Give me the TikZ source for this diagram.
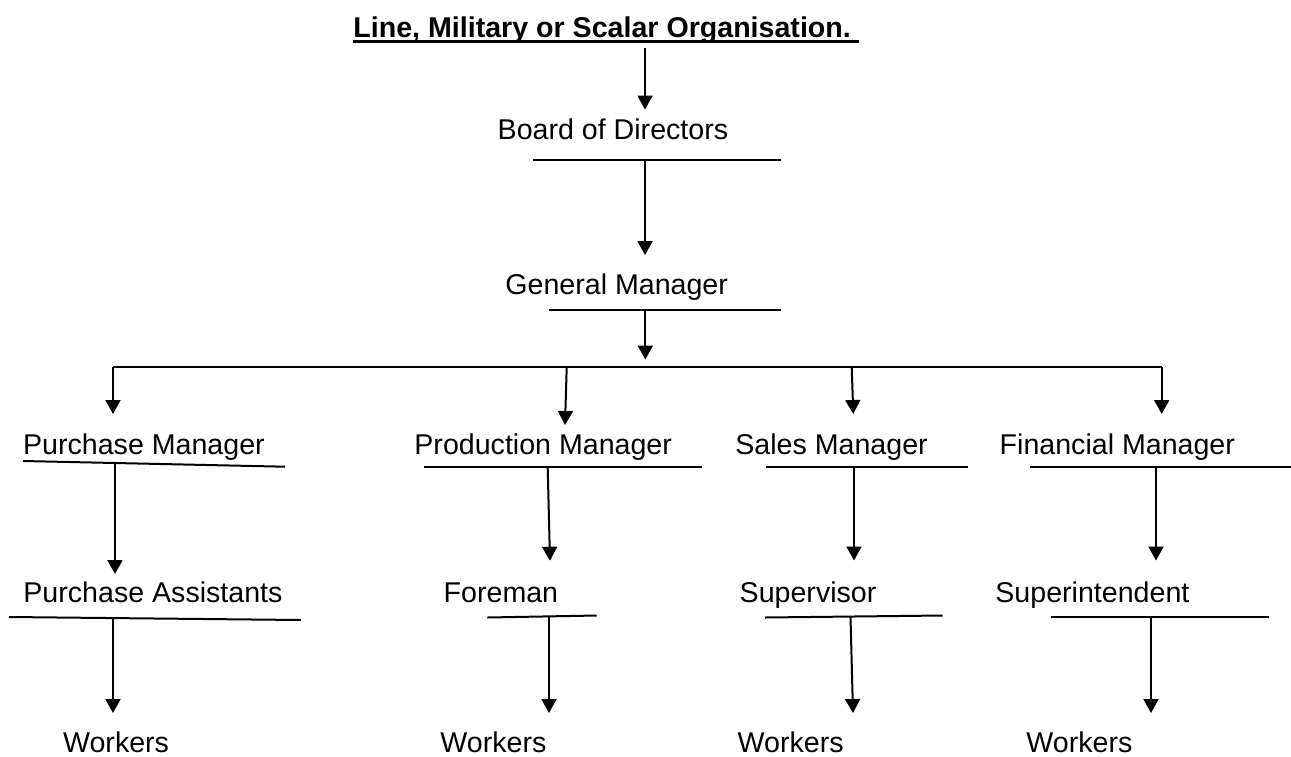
\documentclass[tikz,border=0pt]{standalone}
\usepackage{fontspec}
\setmainfont{Liberation Sans}
\usetikzlibrary{arrows.meta}
\tikzset{
  lbl/.style={anchor=base west, inner sep=0pt, font=\fontsize{14.3}{17}\selectfont},
  ttl/.style={anchor=base west, inner sep=0pt, font=\fontsize{14.3}{17}\selectfont\bfseries},
  uline/.style={line width=1pt},
  tline/.style={line width=1.5pt},
  arr/.style={line width=1pt, -{Triangle[length=7pt,width=7.5pt]}},
}
\begin{document}
\begin{tikzpicture}[x=0.5pt, y=-0.5pt]
\useasboundingbox (0,0) rectangle (1291,756);

% ---- texts ----
\node[ttl] (title) at (353,37.3) {Line, Military or Scalar Organisation.};
\node[lbl] (bod) at (497.3,139.3) {Board of Directors};
\node[lbl] (gm)  at (505,294)     {General Manager};
\node[lbl] (pm)  at (22.7,454)    {Purchase Manager};
\node[lbl] (prm) at (414,454)     {Production Manager};
\node[lbl] (sm)  at (735,454)     {Sales Manager};
\node[lbl] (fm)  at (999.3,454)   {Financial Manager};
\node[lbl] (pa)  at (23,602.7)    {Purchase Assistants};
\node[lbl] (fo)  at (443.3,602.7) {Foreman};
\node[lbl] (sv)  at (739.3,602.7) {Supervisor};
\node[lbl] (si)  at (995,602.7)   {Superintendent};
\node[lbl] (w1)  at (62.7,752)    {Workers};
\node[lbl] (w2)  at (440,752)     {Workers};
\node[lbl] (w3)  at (737.3,752)   {Workers};
\node[lbl] (w4)  at (1026,752)    {Workers};

% ---- title underline ----
\coordinate (tuL) at (353,41.5);
\coordinate (tuR) at (859,41.5);
\draw[tline] (tuL) -- (tuR);

% ---- underlines ----
\coordinate (bodL) at (532.7,160.3); \coordinate (bodR) at (781,160.3);
\coordinate (gmL)  at (549.3,309.7); \coordinate (gmR)  at (781,309.7);
\coordinate (pmL)  at (23,461);      \coordinate (pmR)  at (285,466.7);
\coordinate (prmL) at (424,467.3);   \coordinate (prmR) at (701.7,467.3);
\coordinate (smL)  at (766,467.3);   \coordinate (smR)  at (967.7,467.3);
\coordinate (fmL)  at (1030,467.3);  \coordinate (fmR)  at (1290.7,467.3);
\coordinate (paL)  at (9,617);       \coordinate (paR)  at (301,620);
\coordinate (foL)  at (487.3,617.5); \coordinate (foR)  at (596.7,615.5);
\coordinate (svL)  at (765,617.5);   \coordinate (svR)  at (942.7,615.5);
\coordinate (siL)  at (1051,617.3);  \coordinate (siR)  at (1269,617.3);
\foreach \u in {bod,gm,pm,prm,sm,fm,pa,fo,sv,si}
  \draw[uline] (\u L) -- (\u R);

% ---- bus ----
\coordinate (busL) at (113,367.3);
\coordinate (busR) at (1161.7,367.3);
\coordinate (busP) at (566.7,367.3);
\coordinate (busS) at (851.7,367.3);
\draw[uline] (busL) -- (busR);

% ---- arrow ends ----
\coordinate (a0s) at (645,48);      \coordinate (a0e) at (645,109.5);
\coordinate (a1s) at (645,160.3);   \coordinate (a1e) at (645,255);
\coordinate (a2s) at (645.3,309.7); \coordinate (a2e) at (645.3,359.5);
\coordinate (b1e) at (113,414);
\coordinate (b2e) at (565,425);
\coordinate (b3e) at (853.3,414);
\coordinate (b4e) at (1161.7,414);
\coordinate (c1s) at (115,462.8);   \coordinate (c1e) at (115,574);
\coordinate (c2s) at (547.7,467.3); \coordinate (c2e) at (550,560.7);
\coordinate (c3s) at (854,467.3);   \coordinate (c3e) at (854,560.5);
\coordinate (c4s) at (1156,467.3);  \coordinate (c4e) at (1156,560.5);
\coordinate (d1s) at (113,618.3);   \coordinate (d1e) at (113,713);
\coordinate (d2s) at (549,616.5);   \coordinate (d2e) at (549,713);
\coordinate (d3s) at (850.5,616.5); \coordinate (d3e) at (853,713);
\coordinate (d4s) at (1151,617.3);  \coordinate (d4e) at (1151,713);

% ---- arrows ----
\draw[arr] (a0s) -- (a0e);
\draw[arr] (a1s) -- (a1e);
\draw[arr] (a2s) -- (a2e);
\draw[arr] (busL) -- (b1e);
\draw[arr] (busP) -- (b2e);
\draw[arr] (busS) -- (b3e);
\draw[arr] (busR) -- (b4e);
\draw[arr] (c1s) -- (c1e);
\draw[arr] (c2s) -- (c2e);
\draw[arr] (c3s) -- (c3e);
\draw[arr] (c4s) -- (c4e);
\draw[arr] (d1s) -- (d1e);
\draw[arr] (d2s) -- (d2e);
\draw[arr] (d3s) -- (d3e);
\draw[arr] (d4s) -- (d4e);
\end{tikzpicture}
\end{document}
